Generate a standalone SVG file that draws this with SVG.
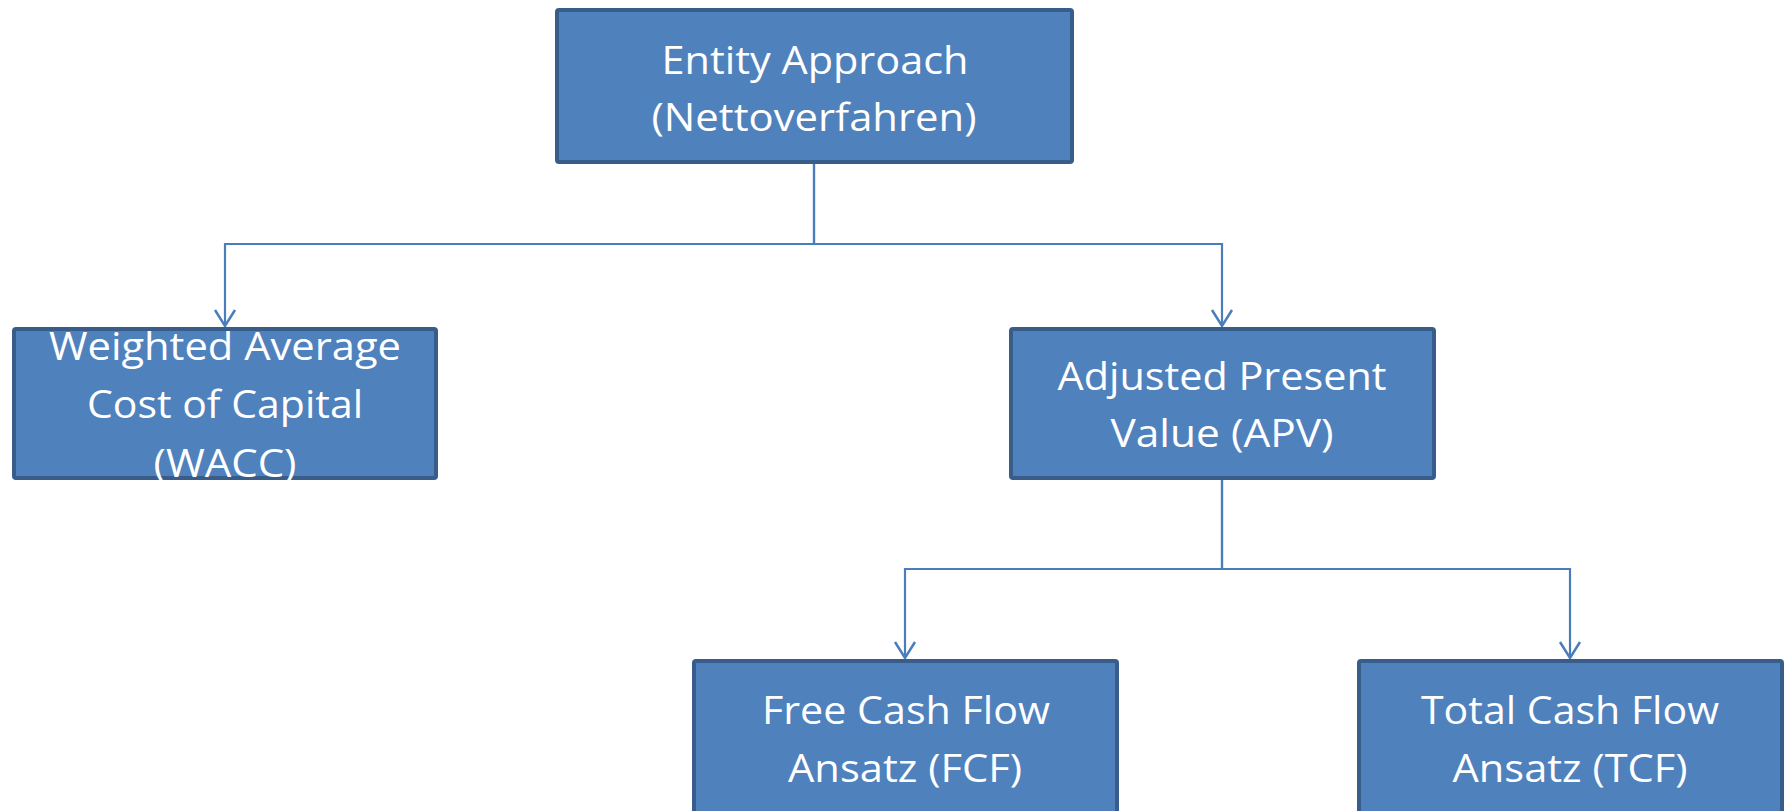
<svg xmlns="http://www.w3.org/2000/svg" width="1787" height="811" viewBox="0 0 1787 811">
  <style>
    .box { fill: #4f81bd; stroke: #385d8a; stroke-width: 4; }
    .lbl { fill: #ffffff; font-family: "Open Sans", "Noto Sans", "Liberation Sans", sans-serif; font-size: 38px; text-anchor: middle; }
    .link { fill: none; stroke: #4a7ebb; stroke-width: 2.2; }
  </style>
  <defs>
    <!-- open V arrowhead, tip at the path end -->
    <marker id="openArrow" markerUnits="userSpaceOnUse" markerWidth="24" markerHeight="24" viewBox="-20 -12 24 24" refX="0" refY="0" orient="auto" overflow="visible">
      <path d="M-16,-10 L0,0 L-16,10" fill="none" stroke="#4a7ebb" stroke-width="2.5"/>
    </marker>
  </defs>
  <rect width="1787" height="811" fill="#ffffff"/>

  <g id="connectors">
    <path class="link" d="M814,163 V244 H225 V326" marker-end="url(#openArrow)"/>
    <path class="link" d="M814,163 V244 H1222 V326" marker-end="url(#openArrow)"/>
    <path class="link" d="M1222,480 V569 H905 V658" marker-end="url(#openArrow)"/>
    <path class="link" d="M1222,480 V569 H1570 V658" marker-end="url(#openArrow)"/>
  </g>

  <g id="entity">
    <rect class="box" x="557" y="10" width="515" height="152" rx="2"/>
    <text class="lbl" x="815" y="74" textLength="307" lengthAdjust="spacingAndGlyphs">Entity Approach</text>
    <text class="lbl" x="814" y="131" textLength="325" lengthAdjust="spacingAndGlyphs">(Nettoverfahren)</text>
  </g>

  <g id="wacc">
    <rect class="box" x="14" y="329" width="422" height="149" rx="2"/>
    <text class="lbl" x="225" y="360" textLength="352" lengthAdjust="spacingAndGlyphs">Weighted Average</text>
    <text class="lbl" x="225" y="418" textLength="276" lengthAdjust="spacingAndGlyphs">Cost of Capital</text>
    <text class="lbl" x="225" y="477" textLength="143" lengthAdjust="spacingAndGlyphs">(WACC)</text>
  </g>

  <g id="apv">
    <rect class="box" x="1011" y="329" width="423" height="149" rx="2"/>
    <text class="lbl" x="1222" y="390" textLength="329" lengthAdjust="spacingAndGlyphs">Adjusted Present</text>
    <text class="lbl" x="1222" y="447" textLength="223" lengthAdjust="spacingAndGlyphs">Value (APV)</text>
  </g>

  <g id="fcf">
    <rect class="box" x="694" y="661" width="423" height="160" rx="2"/>
    <text class="lbl" x="906" y="724" textLength="288" lengthAdjust="spacingAndGlyphs">Free Cash Flow</text>
    <text class="lbl" x="905" y="782" textLength="234" lengthAdjust="spacingAndGlyphs">Ansatz (FCF)</text>
  </g>

  <g id="tcf">
    <rect class="box" x="1359" y="661" width="423" height="160" rx="2"/>
    <text class="lbl" x="1570" y="724" textLength="298" lengthAdjust="spacingAndGlyphs">Total Cash Flow</text>
    <text class="lbl" x="1570" y="782" textLength="235" lengthAdjust="spacingAndGlyphs">Ansatz (TCF)</text>
  </g>
</svg>
